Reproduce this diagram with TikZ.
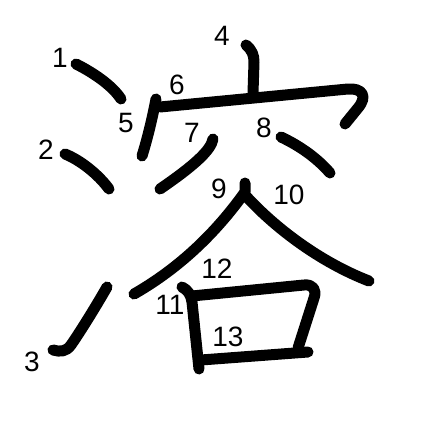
\documentclass[tikz,border=0pt]{standalone}
\usepackage{fontspec}
\setmainfont{Liberation Sans}
\begin{document}
\begin{tikzpicture}[x=1pt,y=-1pt,
  stroke/.style={line width=11pt,line cap=round,line join=round},
  num/.style={font=\fontsize{28}{28}\selectfont,inner sep=0pt}]
\useasboundingbox (0,0) rectangle (447,447);
% strokes
\draw[stroke] (76,64) .. controls (92,72) and (112,85) .. (121,99);
\draw[stroke] (65,154) .. controls (80,160) and (98,174) .. (109,189);
\draw[stroke] (107,287) .. controls (95,308) and (80,332) .. (71,345) .. controls (66,352) and (60,352) .. (53,350);
\draw[stroke] (246,45) .. controls (252,50) and (254,55) .. (254,62) -- (253,93);
\draw[stroke] (156,99) .. controls (152,120) and (147,140) .. (142,156);
\draw[stroke] (160,107) -- (348,89) .. controls (362,88) and (368,96) .. (358,108) -- (345,124);
\draw[stroke] (213,139) .. controls (211,150) and (195,165) .. (160,189);
\draw[stroke] (281,137) .. controls (300,146) and (317,158) .. (330,173);
\draw[stroke] (245,183) -- (245,192) .. controls (225,220) and (190,262) .. (134,294);
\draw[stroke] (245,195) .. controls (275,228) and (320,262) .. (369,281);
\draw[stroke] (182,287) .. controls (188,290) and (191,295) .. (192,302) -- (199,369);
\draw[stroke] (192,296) -- (304,285) .. controls (313,284) and (317,290) .. (314,298) -- (298,348);
\draw[stroke] (201,360) -- (308,352);
% numbers
\node[num] (n1) at (60,58) {1};
\node[num] (n2) at (46,150) {2};
\node[num] (n3) at (32,362) {3};
\node[num] (n4) at (222,36) {4};
\node[num] (n5) at (126,123) {5};
\node[num] (n6) at (177,85) {6};
\node[num] (n7) at (192,133) {7};
\node[num] (n8) at (264,128) {8};
\node[num] (n9) at (219,189) {9};
\node[num] (n10) at (289,195) {10};
\node[num] (n11) at (170,305) {11};
\node[num] (n12) at (217,269) {12};
\node[num] (n13) at (228,337) {13};
\end{tikzpicture}
\end{document}
